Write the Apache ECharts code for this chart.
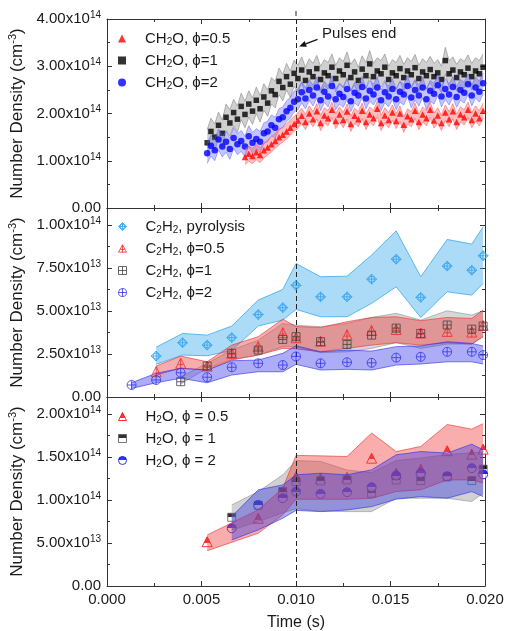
<!DOCTYPE html>
<html><head><meta charset="utf-8">
<script src="https://cdn.jsdelivr.net/npm/echarts@6/dist/echarts.min.js"></script>
<style>html,body{margin:0;padding:0;background:#fff}#c{width:507px;height:631px}</style>
</head><body><div id="c"></div>
<script>
// ---------- DATA ----------
// Top panel: CH2O number density (units of 1e14 cm^-3)
const tCH2O = [0.0053,0.0055,0.0057,0.0059,0.0061,0.0063,0.0065,0.0067,0.0069,0.0071,
0.0073,0.0075,0.0077,0.0079,0.0081,0.0083,0.0085,0.0087,0.0089,0.0091,
0.0093,0.0095,0.0097,0.0099,0.0101,0.0103,0.0105,0.0107,0.0109,0.0111,
0.0113,0.0115,0.0117,0.0119,0.0121,0.0123,0.0125,0.0127,0.0129,0.0131,
0.0133,0.0135,0.0137,0.0139,0.0141,0.0143,0.0145,0.0147,0.0149,0.0151,
0.0153,0.0155,0.0157,0.0159,0.0161,0.0163,0.0165,0.0167,0.0169,0.0171,
0.0173,0.0175,0.0177,0.0179,0.0181,0.0183,0.0185,0.0187,0.0189,0.0191,
0.0193,0.0195,0.0197,0.0199];
const ch2oPhi1 = [1.38,1.62,1.50,1.75,1.58,1.92,1.80,2.02,1.88,2.15,
1.98,2.20,2.05,2.28,2.10,2.35,2.22,2.48,2.40,2.68,
2.55,2.78,2.62,2.85,2.74,2.92,2.70,2.88,2.78,2.95,
2.72,2.86,2.80,2.98,2.74,2.90,2.82,3.02,2.76,2.88,
2.70,2.94,2.80,3.05,2.78,2.90,2.84,2.98,2.72,2.86,
2.80,2.95,2.76,2.90,2.82,2.97,2.74,2.88,2.80,2.93,
2.78,2.86,2.72,3.12,2.84,2.92,2.76,2.88,2.82,2.96,
2.78,2.90,2.84,2.98];
const ch2oPhi2 = [1.16,1.32,1.22,1.45,1.30,1.40,1.25,1.48,1.35,1.42,
1.30,1.52,1.38,1.46,1.40,1.58,1.62,1.75,1.70,1.88,
1.92,2.05,2.12,2.25,2.30,2.45,2.32,2.50,2.38,2.55,
2.28,2.46,2.36,2.58,2.30,2.42,2.35,2.52,2.26,2.44,
2.38,2.56,2.32,2.48,2.40,2.55,2.28,2.45,2.36,2.52,
2.30,2.46,2.40,2.58,2.34,2.50,2.38,2.55,2.30,2.48,
2.42,2.60,2.36,2.52,2.40,2.56,2.35,2.50,2.44,2.62,
2.38,2.55,2.46,2.64];
// phi=0.5 starts at tCH2O[10] (0.0073 s)
const ch2oPhi05 = [1.08,1.15,1.10,1.18,1.12,1.22,1.28,1.35,1.42,1.50,
1.55,1.62,1.70,1.78,1.85,1.95,1.82,2.00,1.88,2.05,
1.80,1.96,1.90,2.08,1.84,1.98,1.86,2.04,1.78,1.95,
1.88,2.06,1.82,1.98,1.90,2.10,1.80,1.96,1.86,2.02,
1.84,2.00,1.76,1.94,1.88,2.06,1.82,1.98,1.90,2.08,
1.85,1.96,1.80,2.02,1.88,2.05,1.82,1.98,1.92,2.08,
1.86,2.00,1.90,2.06];
const ch2oErr = {phi05: 0.16, phi1: 0.28, phi2: 0.22};

// Middle panel: C2H2 (units of 1e13 cm^-3)
const tPyro = [0.0026,0.0040,0.0053,0.0066,0.0080,0.0093,0.0100,0.0113,0.0127,0.0140,0.0153,0.0166,0.0180,0.0193,0.0199];
const c2h2Pyro   = [2.38,3.16,3.02,3.46,4.80,5.20,6.50,5.83,5.83,6.86,8.02,5.80,7.62,7.38,8.22];
const c2h2PyroLo = [1.90,2.44,2.40,2.70,4.13,4.48,5.10,4.67,4.67,5.45,6.41,4.63,6.12,5.93,6.61];
const c2h2PyroHi = [2.90,3.70,3.60,4.13,5.64,6.26,7.77,7.00,7.03,8.26,9.67,7.00,9.17,8.90,9.90];
const tC2H2phi05 = [0.0026,0.0039,0.0053,0.0066,0.0080,0.0093,0.0100,0.0113,0.0127,0.0140,0.0153,0.0166,0.0180,0.0193,0.0199];
const c2h2Phi05   = [1.47,1.96,1.80,2.54,2.93,3.74,3.45,3.25,3.62,3.87,3.93,3.72,3.82,3.78,4.16];
const c2h2Phi05Lo = [1.28,1.67,1.57,2.15,2.44,2.83,2.80,2.63,2.83,3.02,3.16,3.02,3.16,3.08,3.51];
const c2h2Phi05Hi = [1.80,2.38,2.05,3.02,3.51,4.53,4.10,4.05,4.38,4.63,4.67,4.44,4.63,4.57,5.06];
const tC2H2phi1 = [0.0039,0.0053,0.0066,0.0080,0.0093,0.0100,0.0113,0.0127,0.0140,0.0153,0.0166,0.0180,0.0193,0.0199];
const c2h2Phi1   = [0.89,1.80,2.54,2.73,3.35,3.51,3.22,3.06,3.60,4.01,3.70,4.19,3.95,4.13];
const c2h2Phi1Lo = [0.76,1.67,2.19,2.44,2.93,2.93,2.58,2.63,2.83,3.16,2.83,3.08,3.08,3.51];
const c2h2Phi1Hi = [1.18,1.96,2.73,3.31,4.28,4.18,4.09,4.28,4.63,4.87,4.48,5.02,4.77,5.02];
const tC2H2phi2 = [0.0013,0.0026,0.0039,0.0053,0.0066,0.0080,0.0093,0.0100,0.0113,0.0127,0.0140,0.0153,0.0166,0.0180,0.0193,0.0199];
const c2h2Phi2   = [0.70,0.99,1.41,1.15,1.73,1.96,1.86,2.36,1.96,2.02,1.99,2.29,2.34,2.63,2.63,2.44];
const c2h2Phi2Lo = [0.50,0.83,1.09,0.83,1.28,1.47,1.47,1.90,1.57,1.61,1.57,1.86,1.92,2.05,2.05,1.92];
const c2h2Phi2Hi = [0.83,1.38,1.67,1.57,2.11,2.15,2.54,2.98,2.63,2.73,2.67,2.93,2.97,3.22,3.12,2.97];

// Bottom panel: H2O (units of 1e13 cm^-3)
const tH2Ophi05 = [0.0053,0.0080,0.0093,0.0100,0.0113,0.0127,0.0140,0.0153,0.0166,0.0180,0.0193,0.0199];
const h2oPhi05   = [5.16,7.89,10.99,12.74,12.55,12.67,14.88,13.13,13.60,15.75,15.35,15.93];
const h2oPhi05Lo = [4.11,6.14,8.28,10.10,10.10,10.10,10.20,11.00,11.20,12.35,12.35,12.00];
const h2oPhi05Hi = [5.94,8.86,11.38,15.20,15.15,15.07,17.80,15.65,16.24,18.80,18.26,18.90];
const tH2Ophi1 = [0.0066,0.0080,0.0093,0.0100,0.0113,0.0127,0.0140,0.0153,0.0166,0.0180,0.0193,0.0199];
const h2oPhi1   = [8.00,9.40,10.99,12.16,12.24,12.35,10.80,12.35,12.27,12.70,12.27,13.60];
const h2oPhi1Lo = [6.50,7.50,8.50,9.00,8.70,8.66,8.66,10.22,10.22,10.22,9.83,10.80];
const h2oPhi1Hi = [9.44,10.99,12.94,14.60,14.50,13.50,13.20,14.60,14.90,15.30,15.50,15.60];
const tH2Ophi2 = [0.0066,0.0080,0.0093,0.0100,0.0113,0.0127,0.0140,0.0153,0.0166,0.0180,0.0193,0.0199];
const h2oPhi2   = [6.72,9.44,10.22,10.99,10.72,10.92,11.50,12.86,13.13,12.78,13.72,13.00];
const h2oPhi2Lo = [5.36,6.53,7.89,8.80,8.66,8.86,9.24,10.10,10.41,10.22,10.99,10.41];
const h2oPhi2Hi = [8.08,11.19,11.77,12.94,13.13,12.94,13.52,15.27,15.65,15.47,16.51,15.85];

const pulsesEndTime = 0.010;
const xTicks = {min: 0, max: 0.02, interval: 0.005};

// ---------- CHART ----------
const FF = 'Arial, "Liberation Sans", Helvetica, sans-serif';
const AX = '#333';
const TXT = '#1a1a1a';
const chart = echarts.init(document.getElementById('c'), null, {renderer: 'canvas'});

const grids = [
  {left: 107, top: 19, width: 378, height: 189},
  {left: 107, top: 208, width: 378, height: 189},
  {left: 107, top: 397, width: 378, height: 189}
].map(g => Object.assign(g, {outerBoundsMode: 'none', containLabel: false}));

function xAx(grid, pos, showLabel) {
  return {
    type: 'value', gridIndex: grid, position: pos, min: xTicks.min, max: xTicks.max, interval: xTicks.interval,
    axisLine: {show: true, onZero: false, lineStyle: {color: AX, width: 1}},
    axisTick: {show: true, inside: true, length: 5, lineStyle: {color: AX}},
    minorTick: {show: true, splitNumber: 2, length: 3, lineStyle: {color: AX}},
    splitLine: {show: false}, minorSplitLine: {show: false},
    axisLabel: {show: showLabel, formatter: v => v.toFixed(3), fontSize: 15, color: TXT, fontFamily: FF,
      margin: 6, showMinLabel: true, showMaxLabel: true, hideOverlap: false},
    name: showLabel ? 'Time (s)' : '', nameLocation: 'middle', nameGap: 29, nameMoveOverlap: false,
    nameTextStyle: {fontSize: 16, color: TXT, fontFamily: FF}
  };
}
function fmtY(unitExp, interval) {
  return function (v) {
    if (Math.abs(v / interval - Math.round(v / interval)) > 1e-6) return '';
    if (Math.abs(v) < 1e-9) return '0.00';
    const real = v * Math.pow(10, unitExp);
    const e = Math.floor(Math.log10(real) + 1e-9);
    const m = real / Math.pow(10, e);
    return m.toFixed(2) + 'x10{sup|' + e + '}';
  };
}
function yAx(grid, pos, show, max, interval, unitExp) {
  return {
    type: 'value', gridIndex: grid, position: pos, min: 0, max: max, interval: interval,
    axisLine: {show: true, onZero: false, lineStyle: {color: AX, width: 1}},
    axisTick: {show: true, inside: true, length: 5, lineStyle: {color: AX}},
    minorTick: {show: true, splitNumber: 2, length: 3, lineStyle: {color: AX}},
    splitLine: {show: false}, minorSplitLine: {show: false},
    axisLabel: {show: show, formatter: fmtY(unitExp, interval), fontSize: 15, color: TXT, fontFamily: FF, margin: 6,
      showMinLabel: true, showMaxLabel: true, hideOverlap: false,
      rich: {sup: {fontSize: 10, color: TXT, fontFamily: FF, padding: [0, 0, 8, 0]}}},
    name: show ? 'Number Density (cm{sup|-3})' : '', nameLocation: 'middle', nameGap: 80, nameRotate: 90,
    nameMoveOverlap: false,
    nameTextStyle: {fontSize: 17, color: TXT, fontFamily: FF,
      rich: {sup: {fontSize: 11, color: TXT, fontFamily: FF, padding: [0, 0, 9, 0]}}}
  };
}

function band(xi, yi, ts, lo, hi, fill, stroke, z) {
  return {
    type: 'custom', xAxisIndex: xi, yAxisIndex: yi, z: z, silent: true,
    data: ts.map((t, i) => [t, lo[i], hi[i]]),
    encode: {x: 0, y: [1, 2]},
    renderItem: function (params, api) {
      if (params.dataIndex !== 0) return null;
      const up = ts.map((t, i) => api.coord([t, hi[i]]));
      const dn = ts.map((t, i) => api.coord([t, lo[i]]));
      const poly = up.concat(dn.slice().reverse());
      return {type: 'group', children: [
        {type: 'polygon', shape: {points: poly}, style: {fill: fill, stroke: null}},
        {type: 'polyline', shape: {points: up}, style: {stroke: stroke, fill: null, lineWidth: 0.8}},
        {type: 'polyline', shape: {points: dn}, style: {stroke: stroke, fill: null, lineWidth: 0.8}}
      ]};
    }
  };
}
function pts(name, xi, yi, ts, vs, symbol, size, itemStyle, z) {
  return {
    type: 'scatter', name: name, xAxisIndex: xi, yAxisIndex: yi, z: z, silent: true,
    symbol: symbol, symbolSize: size, itemStyle: itemStyle,
    data: ts.map((t, i) => [t, vs[i]])
  };
}
function half(c, split) {
  return new echarts.graphic.LinearGradient(0, 0, 0, 1, [
    {offset: 0, color: c}, {offset: split, color: c},
    {offset: split, color: '#ffffff'}, {offset: 1, color: '#ffffff'}]);
}
const markDash = {
  silent: true, symbol: ['none', 'none'], label: {show: false},
  lineStyle: {color: '#222', width: 1, type: [5, 3]},
  data: [{xAxis: pulsesEndTime}]
};

const P_CIRC = 'path://M50,4 A46,46 0 1,1 49.9,4 Z M50,4 L50,96 M4,50 L96,50';
const P_DIAM = 'path://M50,0 L100,50 L50,100 L0,50 Z M50,20 A30,30 0 1,1 49.9,20 Z M50,0 L50,100 M0,50 L100,50';
const P_TRI = 'path://M50,0 L100,92 L0,92 Z M50,0 L50,92 M24,58 L76,58';
const P_SQR = 'path://M0,0 L100,0 L100,100 L0,100 Z M50,0 L50,100 M0,50 L100,50';
const open = c => ({color: 'rgba(255,255,255,0)', borderColor: c, borderWidth: 1});

const C_PYRO = '#2fa0ee', C_R = '#f02828', C_K = '#444444', C_B = '#3535f0';

const n1 = 'CH2O, ϕ=0.5', n2 = 'CH2O, ϕ=1', n3 = 'CH2O, ϕ=2';
const m0 = 'C2H2, pyrolysis', m1 = 'C2H2, ϕ=0.5', m2 = 'C2H2, ϕ=1', m3 = 'C2H2, ϕ=2';
const b1 = 'H2O, ϕ = 0.5', b2 = 'H2O, ϕ = 1', b3 = 'H2O, ϕ = 2';

const tRed = tCH2O.slice(10);
const series = [
  // top panel
  band(0, 0, tCH2O, ch2oPhi1.map(v => v - ch2oErr.phi1), ch2oPhi1.map(v => v + ch2oErr.phi1), 'rgba(150,150,150,0.45)', 'rgba(140,140,140,0.8)', 1),
  pts(n2, 0, 0, tCH2O, ch2oPhi1, 'rect', 5.5, {color: '#000'}, 2),
  band(0, 0, tCH2O, ch2oPhi2.map(v => v - ch2oErr.phi2), ch2oPhi2.map(v => v + ch2oErr.phi2), 'rgba(90,90,255,0.35)', 'rgba(90,90,255,0.6)', 3),
  pts(n3, 0, 0, tCH2O, ch2oPhi2, 'circle', 6.5, {color: '#0000ff'}, 4),
  band(0, 0, tRed, ch2oPhi05.map(v => v - ch2oErr.phi05), ch2oPhi05.map(v => v + ch2oErr.phi05), 'rgba(255,90,90,0.4)', 'rgba(255,90,90,0.7)', 5),
  Object.assign(pts(n1, 0, 0, tRed, ch2oPhi05, 'triangle', 6.5, {color: '#ff0000'}, 6), {markLine: markDash}),
  // middle panel
  band(2, 2, tPyro, c2h2PyroLo, c2h2PyroHi, 'rgba(70,175,240,0.45)', '#3aa8ee', 1),
  band(2, 2, tC2H2phi1, c2h2Phi1Lo, c2h2Phi1Hi, 'rgba(140,140,140,0.35)', 'rgba(120,120,120,0.6)', 2),
  band(2, 2, tC2H2phi05, c2h2Phi05Lo, c2h2Phi05Hi, 'rgba(235,60,60,0.42)', 'rgba(240,50,50,0.8)', 3),
  band(2, 2, tC2H2phi2, c2h2Phi2Lo, c2h2Phi2Hi, 'rgba(60,60,235,0.42)', 'rgba(50,50,240,0.8)', 4),
  pts(m0, 2, 2, tPyro, c2h2Pyro, P_DIAM, 10, open(C_PYRO), 6),
  pts(m1, 2, 2, tC2H2phi05, c2h2Phi05, P_TRI, 10, open(C_R), 6),
  pts(m2, 2, 2, tC2H2phi1, c2h2Phi1, P_SQR, 8, open(C_K), 6),
  Object.assign(pts(m3, 2, 2, tC2H2phi2, c2h2Phi2, P_CIRC, 9, open(C_B), 6), {markLine: markDash}),
  // bottom panel
  pts(b1, 4, 4, tH2Ophi05, h2oPhi05, 'triangle', 10, {color: half('#ff0000', 0.62), borderColor: '#ff0000', borderWidth: 1}, 1),
  pts(b2, 4, 4, tH2Ophi1, h2oPhi1, 'rect', 8, {color: half('#000000', 0.5), borderColor: '#555', borderWidth: 1}, 1),
  pts(b3, 4, 4, tH2Ophi2, h2oPhi2, 'circle', 9, {color: half('#0000ff', 0.5), borderColor: '#0000ff', borderWidth: 1}, 1),
  band(4, 4, tH2Ophi1, h2oPhi1Lo, h2oPhi1Hi, 'rgba(140,140,140,0.4)', 'rgba(120,120,120,0.6)', 2),
  band(4, 4, tH2Ophi05, h2oPhi05Lo, h2oPhi05Hi, 'rgba(240,60,60,0.42)', 'rgba(240,50,50,0.8)', 3),
  Object.assign(band(4, 4, tH2Ophi2, h2oPhi2Lo, h2oPhi2Hi, 'rgba(60,60,225,0.42)', 'rgba(50,50,235,0.8)', 4), {markLine: markDash})
];

function mkLegend(names, icons, top, bw) {
  const lg = {
    orient: 'vertical', left: 118, top: top, itemWidth: 8, itemHeight: 8, itemGap: 6,
    selectedMode: false, padding: 0,
    data: names.map((n, i) => ({name: n, icon: icons[i]})),
    formatter: n => '{g|}' + n.replace(/([A-Za-z])(\d)/g, '$1{sub|$2}'),
    textStyle: {fontSize: 15, color: TXT, fontFamily: FF,
      rich: {g: {width: 14}, sub: {fontSize: 10, fontFamily: FF, color: TXT, padding: [7, 0, 0, 0]}}}
  };
  if (bw) lg.itemStyle = {borderWidth: 1};
  return lg;
}

chart.setOption({
  animation: false,
  backgroundColor: '#ffffff',
  grid: grids,
  xAxis: [xAx(0, 'bottom', false), xAx(0, 'top', false), xAx(1, 'bottom', false), xAx(1, 'top', false), xAx(2, 'bottom', true), xAx(2, 'top', false)],
  yAxis: [yAx(0, 'left', true, 4, 1, 14), yAx(0, 'right', false, 4, 1, 14),
          yAx(1, 'left', true, 11, 2.5, 13), yAx(1, 'right', false, 11, 2.5, 13),
          yAx(2, 'left', true, 22, 5, 13), yAx(2, 'right', false, 22, 5, 13)],
  legend: [
    mkLegend([n1, n2, n3], ['triangle', 'rect', 'circle'], 31, false),
    mkLegend([m0, m1, m2, m3], [P_DIAM, P_TRI, P_SQR, P_CIRC], 219, true),
    mkLegend([b1, b2, b3], ['triangle', 'rect', 'circle'], 409, true)
  ],
  series: series
});

// annotation "Pulses end" (positions in data units of the top panel)
const pulsesTextAt = [0.01138, 3.66];
const arrowFrom = [0.01114, 3.57];
const arrowTo = [0.01017, 3.42];
const pT = chart.convertToPixel({gridIndex: 0}, pulsesTextAt);
const pA = chart.convertToPixel({gridIndex: 0}, arrowFrom);
const pB = chart.convertToPixel({gridIndex: 0}, arrowTo);
const topLine = chart.convertToPixel({gridIndex: 0}, [pulsesEndTime, 4]);
let dx = pB[0] - pA[0], dy = pB[1] - pA[1];
const L = Math.hypot(dx, dy); dx /= L; dy /= L;
const nx = -dy, ny = dx;
const hb = [pB[0] - 7 * dx, pB[1] - 7 * dy];
chart.setOption({
  graphic: [
    {type: 'text', left: pT[0], top: pT[1] - 9, style: {text: 'Pulses end', fontSize: 15, fontFamily: FF, fill: TXT}},
    {type: 'line', shape: {x1: pA[0], y1: pA[1], x2: hb[0], y2: hb[1]}, style: {stroke: '#111', lineWidth: 1.2}},
    {type: 'polygon', shape: {points: [pB, [hb[0] + 3 * nx, hb[1] + 3 * ny], [hb[0] - 3 * nx, hb[1] - 3 * ny]]}, style: {fill: '#111'}},
    {type: 'line', shape: {x1: topLine[0], y1: topLine[1] - 8, x2: topLine[0], y2: topLine[1]}, style: {stroke: '#222', lineWidth: 1, lineDash: [5, 3]}}
  ]
});
</script></body></html>
